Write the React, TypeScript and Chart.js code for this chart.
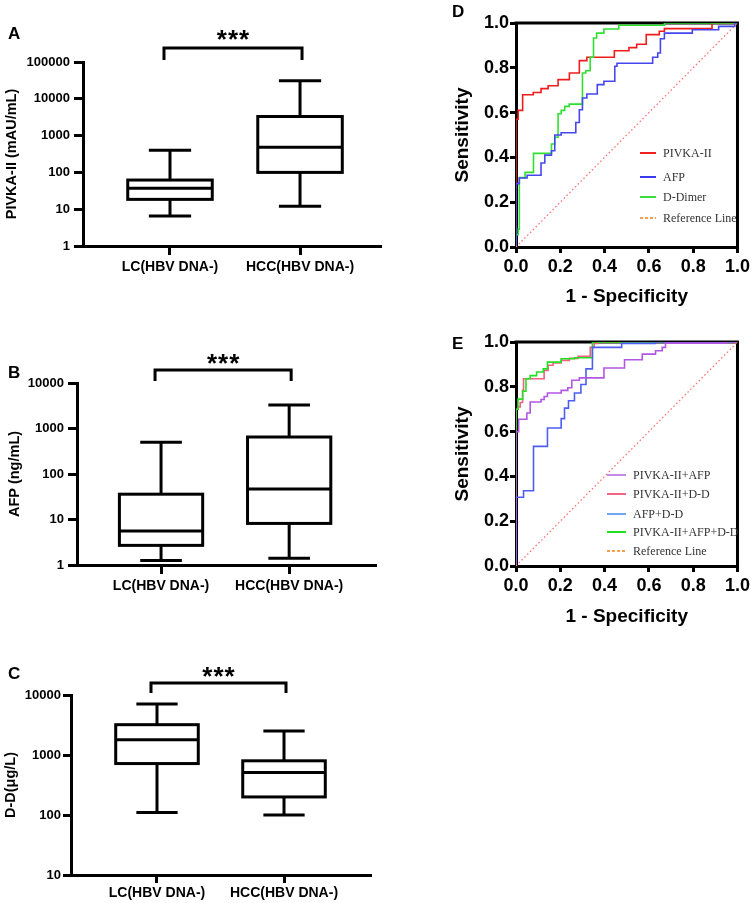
import React, { useEffect, useRef } from "react";
import { Chart, registerables } from "chart.js";
Chart.register(...registerables);

// ---------------- DATA ----------------
const groups = ["LC(HBV DNA-)", "HCC(HBV DNA-)"];
// box stats: [min, Q1, median, Q3, max]
const pivkaLC = [6.5, 18.5, 37, 62, 400];
const pivkaHCC = [12, 100, 480, 3300, 31000];
const afpLC = [1.25, 2.7, 5.6, 36, 500];
const afpHCC = [1.4, 8.2, 47, 650, 3300];
const ddLC = [110, 720, 1800, 3200, 7100];
const ddHCC = [100, 200, 510, 800, 2500];
const pivkaTicks = [1, 10, 100, 1000, 10000, 100000];
const afpTicks = [1, 10, 100, 1000, 10000];
const ddTicks = [10, 100, 1000, 10000];
const rocTicks = [0, 0.2, 0.4, 0.6, 0.8, 1.0];

// ROC D (fpr where the curve jumps, tpr it jumps to)
const dPivkaFpr = [0, 0, 0.01, 0.03, 0.078, 0.113, 0.145, 0.19, 0.241, 0.286, 0.32, 0.444, 0.51, 0.545, 0.588, 0.647, 0.67, 0.885, 1];
const dPivkaTpr = [0, 0.57, 0.61, 0.68, 0.69, 0.707, 0.72, 0.747, 0.777, 0.832, 0.847, 0.876, 0.89, 0.905, 0.948, 0.963, 0.975, 1, 1];
const dAfpFpr = [0, 0, 0.015, 0.05, 0.113, 0.13, 0.16, 0.175, 0.204, 0.27, 0.286, 0.3, 0.32, 0.367, 0.397, 0.446, 0.456, 0.617, 0.64, 0.652, 0.67, 0.796, 0.915, 0.988, 1];
const dAfpTpr = [0, 0.283, 0.308, 0.32, 0.375, 0.41, 0.43, 0.5, 0.51, 0.556, 0.613, 0.665, 0.683, 0.725, 0.74, 0.807, 0.82, 0.847, 0.866, 0.93, 0.955, 0.97, 0.985, 1, 1];
const dDdFpr = [0, 0, 0.01, 0.015, 0.041, 0.079, 0.16, 0.175, 0.19, 0.204, 0.22, 0.24, 0.3, 0.315, 0.335, 0.35, 0.364, 0.397, 0.464, 0.67, 1];
const dDdTpr = [0, 0.055, 0.08, 0.31, 0.333, 0.418, 0.46, 0.49, 0.595, 0.61, 0.628, 0.638, 0.777, 0.787, 0.847, 0.933, 0.955, 0.973, 0.99, 1, 1];

// ROC E
const ePaFpr = [0, 0, 0.012, 0.049, 0.064, 0.113, 0.127, 0.142, 0.204, 0.234, 0.252, 0.286, 0.397, 0.49, 0.57, 0.63, 0.66, 0.675, 0.95, 1];
const ePaTpr = [0, 0.6, 0.655, 0.683, 0.732, 0.743, 0.757, 0.772, 0.784, 0.796, 0.829, 0.84, 0.884, 0.921, 0.946, 0.961, 0.976, 0.995, 1, 1];
const ePdFpr = [0, 0, 0.009, 0.019, 0.03, 0.034, 0.127, 0.145, 0.167, 0.204, 0.241, 0.28, 0.335, 0.353, 0.37, 1];
const ePdTpr = [0, 0.7, 0.71, 0.73, 0.784, 0.836, 0.873, 0.896, 0.906, 0.918, 0.927, 0.936, 0.976, 0.993, 1, 1];
const eAdFpr = [0, 0, 0.034, 0.079, 0.142, 0.204, 0.219, 0.237, 0.264, 0.293, 0.316, 0.345, 0.477, 0.63, 1];
const eAdTpr = [0, 0.307, 0.336, 0.534, 0.616, 0.658, 0.705, 0.738, 0.772, 0.81, 0.88, 0.976, 0.994, 1, 1];
const ePadFpr = [0, 0, 0.009, 0.03, 0.045, 0.064, 0.093, 0.123, 0.142, 0.204, 0.264, 0.345, 1];
const ePadTpr = [0, 0.7, 0.745, 0.78, 0.836, 0.85, 0.866, 0.88, 0.91, 0.925, 0.93, 1, 1];
const refFpr = [0, 1];
const refTpr = [0, 1];

const dLegend = [
  { label: "PIVKA-II", color: "#f02020", dash: false },
  { label: "AFP", color: "#3a3af0", dash: false },
  { label: "D-Dimer", color: "#3ae03a", dash: false },
  { label: "Reference Line", color: "#f5a050", dash: true },
];
const eLegend = [
  { label: "PIVKA-II+AFP", color: "#c48ae8", dash: false },
  { label: "PIVKA-II+D-D", color: "#f06585", dash: false },
  { label: "AFP+D-D", color: "#70a8f8", dash: false },
  { label: "PIVKA-II+AFP+D-D", color: "#20e020", dash: false },
  { label: "Reference Line", color: "#f5a050", dash: true },
];

// ---------------- STYLE ----------------
const SANS = "'Liberation Sans', Arial, sans-serif";
const SERIF = "'Liberation Serif', 'Times New Roman', serif";

function BoxPanel(p: any) {
  const ref = useRef<HTMLCanvasElement>(null);
  useEffect(() => {
    const stats = [p.lc, p.hcc];
    const boxPlugin = {
      id: "boxDraw",
      afterDatasetsDraw(chart: any) {
        const { ctx, chartArea } = chart;
        const x = chart.scales.x;
        const y = chart.scales.y;
        ctx.save();
        ctx.strokeStyle = "#000";
        ctx.lineWidth = 3;
        ctx.lineCap = "butt";
        const line = (a: number, b: number, c: number, d: number) => {
          ctx.beginPath();
          ctx.moveTo(a, b);
          ctx.lineTo(c, d);
          ctx.stroke();
        };
        stats.forEach((s: number[], i: number) => {
          const cx = x.getPixelForValue(i + 1);
          const hw = x.getPixelForValue(i + 1 + 0.325) - cx;
          const cw = hw / 2;
          const [mn, q1, md, q3, mx] = s.map((v) => y.getPixelForValue(v));
          line(cx, q3, cx, mx);
          line(cx, q1, cx, mn);
          line(cx - cw, mx, cx + cw, mx);
          line(cx - cw, mn, cx + cw, mn);
          ctx.fillStyle = "#fff";
          ctx.fillRect(cx - hw, q3, 2 * hw, q1 - q3);
          ctx.strokeRect(cx - hw, q3, 2 * hw, q1 - q3);
          line(cx - hw, md, cx + hw, md);
        });
        const x1 = x.getPixelForValue(1) - 6;
        const x2 = x.getPixelForValue(2) + 2;
        const by = chartArea.top - p.bracketDy;
        ctx.beginPath();
        ctx.moveTo(x1, by + p.legLen);
        ctx.lineTo(x1, by);
        ctx.lineTo(x2, by);
        ctx.lineTo(x2, by + p.legLen);
        ctx.stroke();
        ctx.fillStyle = "#000";
        ctx.font = `bold 26px ${SANS}`;
        (ctx as any).letterSpacing = "1px";
        ctx.textAlign = "center";
        ctx.textBaseline = "alphabetic";
        ctx.fillText("***", (x1 + x2) / 2 + 0.5, chartArea.top - p.starDy + 0.57 * 26);
        ctx.restore();
      },
    };
    const gridOpts = {
      drawOnChartArea: false,
      drawTicks: true,
      tickLength: p.tickLen,
      tickWidth: 3,
      lineWidth: 3,
      color: "#000",
      tickColor: "#000",
    };
    const chart = new Chart(ref.current as HTMLCanvasElement, {
      type: "scatter",
      data: {
        datasets: stats.map((s: number[], i: number) => ({
          data: s.map((v) => ({ x: i + 1, y: v })),
          pointRadius: 0,
          showLine: false,
        })),
      },
      options: {
        animation: false,
        responsive: false,
        layout: { padding: { top: p.area.t, right: p.w - p.area.r, left: 0, bottom: 0 } },
        plugins: { legend: { display: false }, tooltip: { enabled: false } },
        scales: {
          x: {
            type: "linear",
            min: p.xMin,
            max: p.xMax,
            afterBuildTicks: (s: any) => {
              s.ticks = [{ value: 1 }, { value: 2 }];
            },
            afterFit: (s: any) => {
              s.height = p.h - p.area.b;
            },
            ticks: {
              callback: (v: any) => groups[Math.round(v) - 1],
              font: { family: SANS, size: 14, weight: "bold" },
              color: "#000",
              padding: p.xPad,
              maxRotation: 0,
              autoSkip: false,
            },
            grid: gridOpts,
            border: { display: true, color: "#000", width: 3 },
          },
          y: {
            type: "logarithmic",
            min: p.ticks[0],
            max: p.ticks[p.ticks.length - 1],
            afterBuildTicks: (s: any) => {
              s.ticks = p.ticks.map((v: number) => ({ value: v }));
            },
            afterFit: (s: any) => {
              s.width = p.area.l;
            },
            ticks: {
              callback: (v: any) => String(v),
              font: { family: SANS, size: 13, weight: "bold" },
              color: "#000",
              padding: p.yPad,
            },
            grid: gridOpts,
            border: { display: true, color: "#000", width: 3 },
            title: {
              display: true,
              text: p.title,
              font: { family: SANS, size: 14.5, weight: "bold" },
              color: "#000",
              padding: { top: p.titlePad, bottom: 0 },
            },
          },
        },
      } as any,
      plugins: [boxPlugin],
    });
    return () => chart.destroy();
  }, []);
  return (
    <canvas
      ref={ref}
      width={p.w}
      height={p.h}
      style={{ position: "absolute", left: p.left, top: p.top, width: p.w, height: p.h }}
    />
  );
}

function mkLine(fpr: number[], tpr: number[], color: string) {
  return {
    data: fpr.map((x, i) => ({ x, y: tpr[i] })),
    borderColor: color,
    borderWidth: 1.6,
    stepped: "before",
    fill: false,
    pointRadius: 0,
  };
}

function RocPanel(p: any) {
  const ref = useRef<HTMLCanvasElement>(null);
  useEffect(() => {
    const framePlugin = {
      id: "frame",
      beforeDatasetsDraw(chart: any) {
        const { ctx, chartArea } = chart;
        ctx.save();
        ctx.strokeStyle = "#000";
        ctx.lineWidth = 3;
        ctx.beginPath();
        ctx.moveTo(chartArea.left - 1.5, chartArea.top);
        ctx.lineTo(chartArea.right, chartArea.top);
        ctx.lineTo(chartArea.right, chartArea.bottom + 1.5);
        ctx.stroke();
        ctx.restore();
      },
    };
    const gridOpts = {
      drawOnChartArea: false,
      drawTicks: true,
      tickLength: 6,
      tickWidth: 3,
      lineWidth: 3,
      color: "#000",
      tickColor: "#000",
    };
    const tickFont = { family: SANS, size: 18, weight: "bold" };
    const titleFont = { family: SANS, size: 19, weight: "bold" };
    const datasets = [
      {
        data: refFpr.map((x, i) => ({ x, y: refTpr[i] })),
        borderColor: "#ff7070",
        borderWidth: 1.3,
        borderDash: [1.5, 2.5],
        pointRadius: 0,
        fill: false,
      },
      ...p.series.map((s: any) => mkLine(s.fpr, s.tpr, s.color)),
    ];
    const chart = new Chart(ref.current as HTMLCanvasElement, {
      type: "line",
      data: { datasets },
      options: {
        animation: false,
        responsive: false,
        layout: { padding: { top: p.area.t, right: p.w - p.area.r, left: 0, bottom: 0 } },
        plugins: { legend: { display: false }, tooltip: { enabled: false } },
        scales: {
          x: {
            type: "linear",
            min: 0,
            max: 1,
            afterBuildTicks: (s: any) => {
              s.ticks = rocTicks.map((v) => ({ value: v }));
            },
            afterFit: (s: any) => {
              s.height = p.h - p.area.b;
            },
            ticks: {
              callback: (v: any) => Number(v).toFixed(1),
              font: tickFont,
              color: "#000",
              padding: 3,
              maxRotation: 0,
              autoSkip: false,
            },
            grid: gridOpts,
            border: { display: true, color: "#000", width: 3 },
            title: {
              display: true,
              text: "1 - Specificity",
              font: titleFont,
              color: "#000",
              padding: { top: 0, bottom: p.xTitlePad },
            },
          },
          y: {
            type: "linear",
            min: 0,
            max: 1,
            afterBuildTicks: (s: any) => {
              s.ticks = rocTicks.map((v) => ({ value: v }));
            },
            afterFit: (s: any) => {
              s.width = p.area.l;
            },
            ticks: {
              callback: (v: any) => Number(v).toFixed(1),
              font: tickFont,
              color: "#000",
              padding: 1,
            },
            grid: gridOpts,
            border: { display: true, color: "#000", width: 3 },
            title: {
              display: true,
              text: "Sensitivity",
              font: titleFont,
              color: "#000",
              padding: { top: p.yTitlePad, bottom: 0 },
            },
          },
        },
      } as any,
      plugins: [framePlugin],
    });
    return () => chart.destroy();
  }, []);
  return (
    <canvas
      ref={ref}
      width={p.w}
      height={p.h}
      style={{ position: "absolute", left: p.left, top: p.top, width: p.w, height: p.h }}
    />
  );
}

function Legend(p: any) {
  return (
    <div style={{ position: "absolute", left: p.left, top: 0 }}>
      {p.items.map((it: any, i: number) => (
        <div key={i} style={{ position: "absolute", left: 0, top: p.rows[i] - 8, height: 16, whiteSpace: "nowrap" }}>
          <div
            style={{
              position: "absolute",
              left: 0,
              top: 7,
              width: p.markW,
              height: 2,
              background: it.dash
                ? `repeating-linear-gradient(90deg, ${it.color} 0px, ${it.color} 3px, transparent 3px, transparent 5px)`
                : it.color,
            }}
          />
          <div
            style={{
              position: "absolute",
              left: p.textDx,
              top: 0,
              font: `12px ${SERIF}`,
              lineHeight: "16px",
              color: "#333",
            }}
          >
            {it.label}
          </div>
        </div>
      ))}
    </div>
  );
}

function Letter(p: any) {
  return (
    <div
      style={{
        position: "absolute",
        left: p.x,
        top: p.y,
        font: `bold 17px ${SANS}`,
        lineHeight: "17px",
        color: "#000",
      }}
    >
      {p.t}
    </div>
  );
}

export default function App() {
  return (
    <div style={{ position: "absolute", left: 0, top: 0, width: 753, height: 903, background: "#fff", overflow: "hidden" }}>
      <BoxPanel
        left={0} top={0} w={390} h={290}
        area={{ l: 83, r: 380, t: 62, b: 246 }}
        xMin={0.331} xMax={2.615} xPad={4} tickLen={9} yPad={4}
        lc={pivkaLC} hcc={pivkaHCC} ticks={pivkaTicks}
        title="PIVKA-II (mAU/mL)" titlePad={3.3}
        bracketDy={14} legLen={12} starDy={29}
      />
      <BoxPanel
        left={0} top={300} w={390} h={300}
        area={{ l: 77, r: 375, t: 83, b: 265 }}
        xMin={0.344} xMax={2.67} xPad={4} tickLen={9} yPad={4}
        lc={afpLC} hcc={afpHCC} ticks={afpTicks}
        title="AFP (ng/mL)" titlePad={5.8}
        bracketDy={13} legLen={11} starDy={26}
      />
      <BoxPanel
        left={0} top={600} w={390} h={303}
        area={{ l: 71, r: 370, t: 95, b: 275 }}
        xMin={0.323} xMax={2.677} xPad={2} tickLen={8} yPad={2}
        lc={ddLC} hcc={ddHCC} ticks={ddTicks}
        title="D-D(μg/L)" titlePad={2.5}
        bracketDy={12} legLen={10} starDy={25}
      />
      <RocPanel
        left={400} top={0} w={353} h={320}
        area={{ l: 116, r: 341, t: 23, b: 247 }}
        xTitlePad={11.6} yTitlePad={51.6}
        series={[
          { fpr: dAfpFpr, tpr: dAfpTpr, color: "#4646f0" },
          { fpr: dDdFpr, tpr: dDdTpr, color: "#30e030" },
          { fpr: dPivkaFpr, tpr: dPivkaTpr, color: "#f01c1c" },
        ]}
      />
      <RocPanel
        left={400} top={320} w={353} h={320}
        area={{ l: 116, r: 341, t: 22, b: 246 }}
        xTitlePad={11.6} yTitlePad={51.6}
        series={[
          { fpr: ePaFpr, tpr: ePaTpr, color: "#b456e4" },
          { fpr: eAdFpr, tpr: eAdTpr, color: "#4e5ef2" },
          { fpr: ePadFpr, tpr: ePadTpr, color: "#22e022" },
          { fpr: ePdFpr, tpr: ePdTpr, color: "#f5607e" },
        ]}
      />
      <Legend left={640} items={dLegend} rows={[153, 177, 197, 218]} markW={16} textDx={23} />
      <Legend left={607} items={eLegend} rows={[475, 494, 514, 532, 551]} markW={19} textDx={26} />
      <Letter x={8} y={25} t="A" />
      <Letter x={8} y={364} t="B" />
      <Letter x={8} y={665} t="C" />
      <Letter x={452} y={3} t="D" />
      <Letter x={452} y={335} t="E" />
    </div>
  );
}
